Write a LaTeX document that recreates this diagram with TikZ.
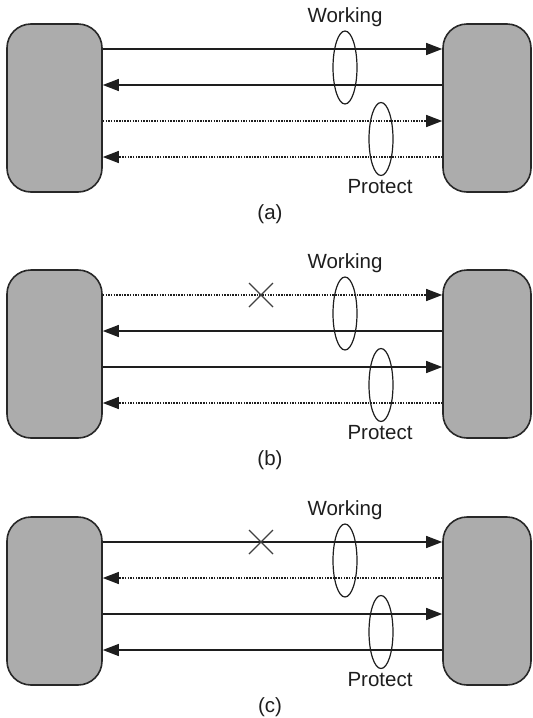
\documentclass[tikz,border=0pt]{standalone}
\usepackage{fontspec}
\setmainfont{Liberation Sans}
\usetikzlibrary{arrows.meta,shapes.geometric,calc}
\definecolor{boxgray}{RGB}{172,172,172}
\definecolor{edgec}{RGB}{40,40,40}
\definecolor{inkc}{RGB}{30,30,30}
\tikzset{
  unit/.style={draw=edgec, line width=1.6pt, fill=boxgray, rounded corners=24pt,
    minimum height=168pt, inner sep=0pt},
  solidline/.style={line width=1.2pt, draw=inkc},
  dotline/.style={line width=1.2pt, draw=inkc, dash pattern=on 1.5pt off 1.2pt},
  tipend/.style={-{Triangle[length=16pt,width=12pt]}},
  ring/.style={ellipse, draw=inkc, line width=1.2pt, minimum width=24pt,
    minimum height=73pt, inner sep=0pt},
  lbl/.style={font=\fontsize{20.5}{24}\selectfont, text=inkc, inner sep=0pt},
  xmark/.style={line width=1.2pt, draw=inkc!85}
}
\begin{document}
\begin{tikzpicture}[x=1pt,y=-1pt]
\useasboundingbox (0,0) rectangle (533,718);
\foreach \p/\yo in {a/49,b/295,c/542}{
  % boxes
  \node[unit, minimum width=95pt] (L\p) at (54.5,\yo+59) {};
  \node[unit, minimum width=88pt] (R\p) at (487,\yo+59) {};
  % row coordinates
  \coordinate (r1\p) at (0,\yo);
  \coordinate (r2\p) at (0,\yo+36);
  \coordinate (r3\p) at (0,\yo+72);
  \coordinate (r4\p) at (0,\yo+108);
}
% panel (a)
\draw[solidline,tipend] (La.east |- r1a) -- (Ra.west |- r1a);
\draw[solidline,tipend] (Ra.west |- r2a) -- (La.east |- r2a);
\draw[dotline,tipend] (La.east |- r3a) -- (Ra.west |- r3a);
\draw[dotline,tipend] (Ra.west |- r4a) -- (La.east |- r4a);
% panel (b)
\draw[dotline,tipend] (Lb.east |- r1b) -- (Rb.west |- r1b);
\draw[solidline,tipend] (Rb.west |- r2b) -- (Lb.east |- r2b);
\draw[solidline,tipend] (Lb.east |- r3b) -- (Rb.west |- r3b);
\draw[dotline,tipend] (Rb.west |- r4b) -- (Lb.east |- r4b);
% panel (c)
\draw[solidline,tipend] (Lc.east |- r1c) -- (Rc.west |- r1c);
\draw[dotline,tipend] (Rc.west |- r2c) -- (Lc.east |- r2c);
\draw[solidline,tipend] (Lc.east |- r3c) -- (Rc.west |- r3c);
\draw[solidline,tipend] (Rc.west |- r4c) -- (Lc.east |- r4c);
% rings, labels
\foreach \p/\yo in {a/49,b/295,c/542}{
  \node[ring] (W\p) at (345,\yo+18.5) {};
  \node[ring] (P\p) at (381,\yo+90) {};
  \node[lbl] (wt\p) at (345,\yo-32) {Working};
  \node[lbl] (pt\p) at (380,\yo+138) {Protect};
  \node[lbl] (cap\p) at (270,\yo+165) {(\p)};
}
% failure marks
\foreach \p/\yo in {b/295,c/542}{
  \coordinate (x\p) at (261,\yo);
  \draw[xmark] ($(x\p)+(-12,-12)$) -- ($(x\p)+(12,12)$);
  \draw[xmark] ($(x\p)+(-12,12)$) -- ($(x\p)+(12,-12)$);
}
\end{tikzpicture}
\end{document}
